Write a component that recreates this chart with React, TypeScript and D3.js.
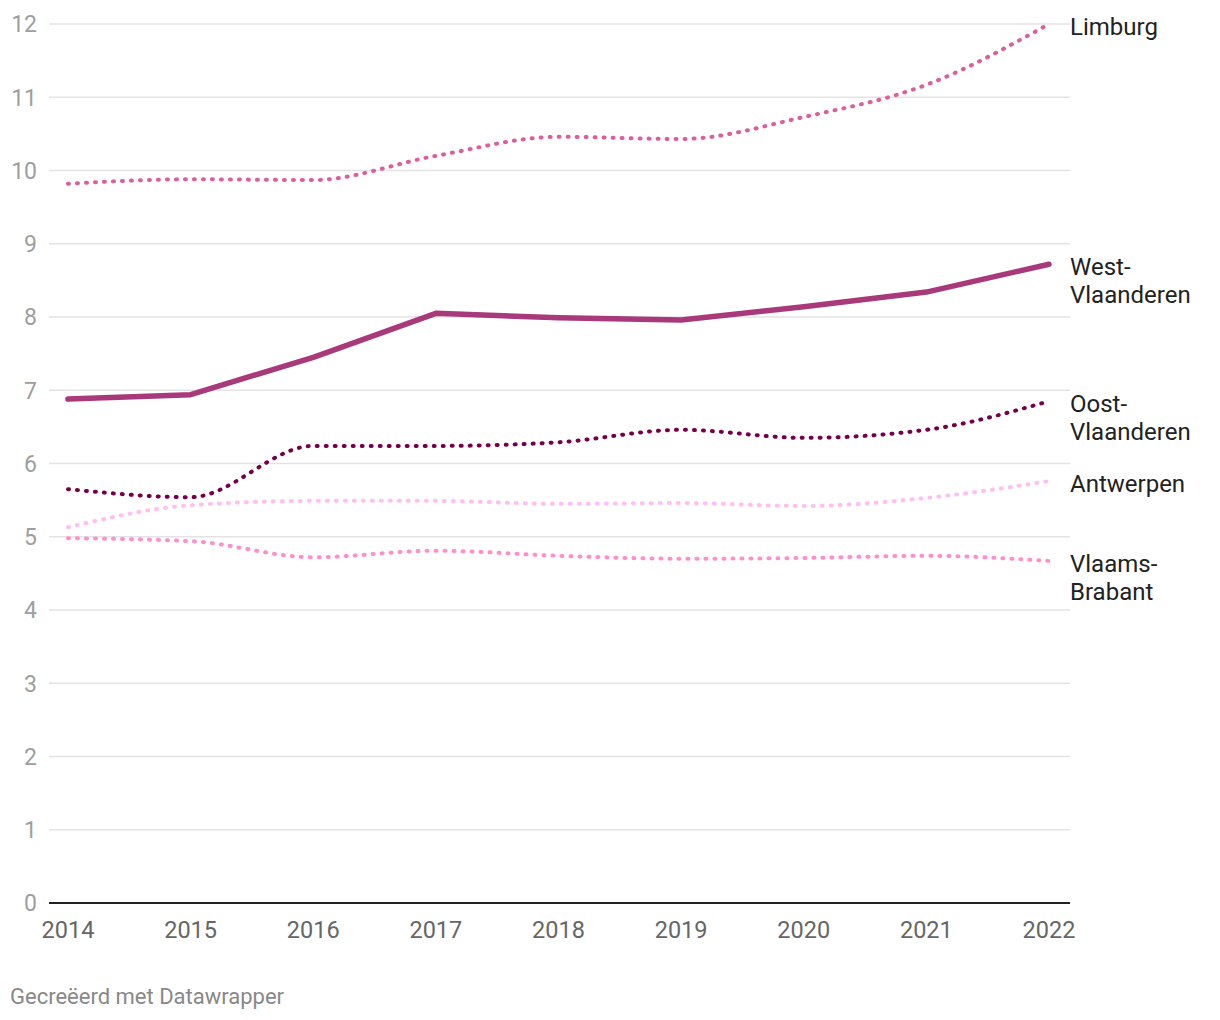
import React from "react";
import * as d3 from "d3";

const years = [2014, 2015, 2016, 2017, 2018, 2019, 2020, 2021, 2022];
const yTicks = [0, 1, 2, 3, 4, 5, 6, 7, 8, 9, 10, 11, 12];

const limburg = [9.82, 9.88, 9.87, 10.2, 10.46, 10.43, 10.73, 11.17, 12.0];
const westVlaanderen = [6.88, 6.94, 7.45, 8.05, 7.99, 7.96, 8.14, 8.34, 8.72];
const oostVlaanderen = [5.65, 5.54, 6.24, 6.24, 6.29, 6.46, 6.35, 6.46, 6.85];
const antwerpen = [5.13, 5.43, 5.49, 5.49, 5.45, 5.46, 5.42, 5.53, 5.76];
const vlaamsBrabant = [4.98, 4.94, 4.72, 4.81, 4.74, 4.7, 4.71, 4.74, 4.67];

const seriesNames = ["Limburg", "West-Vlaanderen", "Oost-Vlaanderen", "Antwerpen", "Vlaams-Brabant"];
const seriesLabels = [["Limburg"], ["West-", "Vlaanderen"], ["Oost-", "Vlaanderen"], ["Antwerpen"], ["Vlaams-", "Brabant"]];
const seriesValues = [limburg, westVlaanderen, oostVlaanderen, antwerpen, vlaamsBrabant];
const seriesColors = ["#d95fa0", "#a8397a", "#74004c", "#ffbff3", "#ff8fcc"];
const seriesDotted = [true, false, true, true, true];

const W = 1220;
const H = 1020;
const FONT = "Roboto, 'Noto Sans', sans-serif";

export default function App() {
  const x = d3.scaleLinear().domain([2014, 2022]).range([68, 1049]);
  const y = d3.scaleLinear().domain([0, 12]).range([903, 24]);
  const gridX0 = 49;
  const gridX1 = 1070;

  return (
    <svg width={W} height={H} style={{ position: "absolute", left: 0, top: 0, background: "#fff" }} fontFamily={FONT}>
      {yTicks.map((t) => (
        <g key={t}>
          {t !== 0 && <line x1={gridX0} x2={gridX1} y1={y(t)} y2={y(t)} stroke="#e3e3e3" strokeWidth={1.5} />}
          <text x={37} y={y(t)} dy="0.36em" textAnchor="end" fontSize={23} fill="#9e9e9e">
            {t}
          </text>
        </g>
      ))}
      <line x1={gridX0} x2={gridX1} y1={y(0)} y2={y(0)} stroke="#222" strokeWidth={2} />
      {years.map((yr) => (
        <text key={yr} x={x(yr)} y={938} textAnchor="middle" fontSize={23.5} fill="#666">
          {yr}
        </text>
      ))}
      {seriesValues.map((vals, i) => {
        const line = d3
          .line<number>()
          .x((_, j) => x(years[j]))
          .y((v) => y(v))
          .curve(seriesDotted[i] ? d3.curveMonotoneX : d3.curveLinear);
        return (
          <path
            key={seriesNames[i]}
            d={line(vals) || ""}
            fill="none"
            stroke={seriesColors[i]}
            strokeWidth={seriesDotted[i] ? 4 : 5.5}
            strokeDasharray={seriesDotted[i] ? "1 8" : undefined}
            strokeLinecap="round"
            strokeLinejoin="round"
          />
        );
      })}
      {seriesValues.map((vals, i) => {
        const lines = seriesLabels[i];
        const lastY = y(vals[vals.length - 1]);
        const lh = 28;
        return (
          <text key={seriesNames[i]} x={1070} fontSize={24} fill="#222">
            {lines.map((l, k) => (
              <tspan key={k} x={1070} y={lastY + 11 + k * lh}>
                {l}
              </tspan>
            ))}
          </text>
        );
      })}
      <text x={10} y={1004} fontSize={22} fill="#888">
        Gecreëerd met Datawrapper
      </text>
    </svg>
  );
}
